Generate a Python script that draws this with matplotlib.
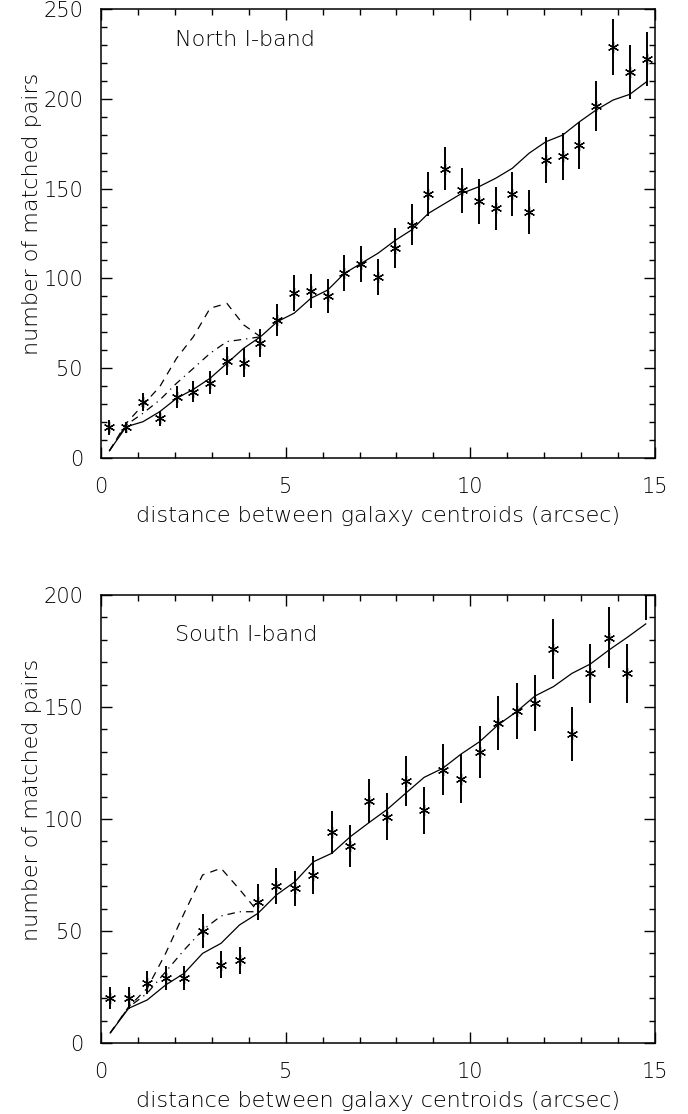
import matplotlib
matplotlib.use("Agg")
import matplotlib.pyplot as plt
from matplotlib.ticker import MultipleLocator
import numpy as np

# ---- North I-band: 33 bins over 0-15 arcsec ----
north_x = (np.arange(33) + 0.5) * 15.0 / 33
north_y = [17, 17, 31, 22, 34, 37, 42, 54, 53, 64, 77, 92, 93, 90, 103, 108, 101,
           117, 130, 147, 161, 149, 143, 139, 147, 137, 166, 168, 174, 196, 229, 215, 222]
north_err = [4, 3, 5, 4, 6, 6, 6.5, 8, 8, 8, 9, 10, 9.5, 9.5, 10, 10, 10,
             11, 11.5, 12, 12, 12.5, 12.5, 12, 12.5, 12, 13, 13, 13, 14, 15.5, 15, 15]
north_model = [4.0, 17.4, 20.2, 25.8, 33.2, 38.2, 44.4, 52.7, 61.1, 67.5, 75.9, 80.6, 88.9,
               93.5, 102.8, 108.4, 114, 121, 127, 136.2, 141.8, 147.4, 151, 155.7, 161.3,
               169.7, 176.1, 179.8, 187.2, 193.8, 199.3, 202.5, 209.5]
# model variants only differ at small separations (first 10 bins)
north_dash = [4.0, 19.3, 29.5, 39.7, 55.5, 67.5, 83.4, 86.1, 74.1, 67.5]
north_dashdot = [4.0, 18.4, 24.9, 32.3, 41.6, 49.9, 58.3, 64.8, 66.1, 67.5]

# ---- South I-band: 30 bins of 0.5 arcsec ----
south_x = np.arange(30) * 0.5 + 0.25
south_y = [20, 20, 27, 29, 29, 50, 35, 37, 63, 70, 69, 75, 94, 88, 108,
           101, 117, 104, 122, 118, 130, 143, 148, 152, 176, 138, 165, 181, 165, 203]
south_err = [5, 5, 5, 5.5, 5.5, 7.5, 6, 6, 8, 8, 8, 8.5, 9.5, 9.5, 10,
             10.5, 11, 10.5, 11.5, 11, 11.5, 12, 12.5, 12.5, 13.5, 12, 13, 13.5, 13, 14]
south_model = [4.5, 15.5, 19.2, 25.9, 31.1, 40, 44.5, 52.7, 57.9, 66.1, 72, 80.9, 84.7,
               92.1, 98.3, 104.3, 111.5, 118.6, 122.6, 129, 134.5, 142, 147.9, 154.9,
               159.1, 165, 169.2, 175.4, 181.1, 187.1]
south_dash = [4.5, 16.2, 24.4, 40, 57.9, 75, 78, 68.6, 58.6]
south_dashdot = [4.5, 16, 22.2, 31.8, 41.5, 50.4, 56.7, 58.6, 58.6]

plt.rcParams["font.family"] = ["DejaVu Sans"]
plt.rcParams["font.size"] = 15
plt.rcParams["font.weight"] = "light"
plt.rcParams["axes.labelweight"] = "light"
LABEL_FS = 16

fig = plt.figure(figsize=(6.88, 11.14), dpi=100)
W, H = 688, 1114


def make_axes(left, top, right, bottom):
    return fig.add_axes([left / W, 1 - bottom / H, (right - left) / W, (bottom - top) / H])


def draw_panel(ax, x, y, err, model, dash, dashdot, ymax, label, label_y):
    ax.errorbar(x, y, yerr=err, fmt="none", ecolor="black", elinewidth=1.4, capsize=0)
    ax.plot(x, y, linestyle="none", marker=(6, 2, 0), markersize=8,
            markeredgecolor="black", markeredgewidth=0.9)
    ax.plot(x, model, color="black", lw=0.9)
    ax.plot(x[:len(dash)], dash, color="black", lw=0.9, dashes=(6, 5))
    ax.plot(x[:len(dashdot)], dashdot, color="black", lw=0.9, dashes=(6, 4, 1, 4))

    ax.set_xlim(0, 15)
    ax.set_ylim(0, ymax)
    ax.xaxis.set_major_locator(MultipleLocator(5))
    ax.xaxis.set_minor_locator(MultipleLocator(1))
    ax.yaxis.set_major_locator(MultipleLocator(50))
    ax.yaxis.set_minor_locator(MultipleLocator(10))
    ax.tick_params(which="both", direction="in", top=True, right=True, width=1.0)
    ax.tick_params(which="major", length=8)
    ax.tick_params(which="minor", length=4.5)
    ax.tick_params(axis="x", which="major", pad=14)
    ax.tick_params(axis="y", which="major", pad=13)
    for s in ax.spines.values():
        s.set_linewidth(1.1)

    ax.set_xlabel("distance between galaxy centroids (arcsec)", fontsize=LABEL_FS)
    ax.set_ylabel("number of matched pairs", fontsize=LABEL_FS)
    ax.xaxis.set_label_coords(0.5, -0.129)
    ax.xaxis.label.set_va("center")
    ax.yaxis.set_label_coords(-0.125, 0.543)
    ax.yaxis.label.set_va("center")
    ax.text(2.0, label_y, label, va="center", ha="left", fontsize=LABEL_FS)


ax1 = make_axes(101, 9, 655, 458)
draw_panel(ax1, north_x, north_y, north_err, north_model, north_dash, north_dashdot,
           250, "North I-band", 233)

ax2 = make_axes(101, 595, 655, 1043)
draw_panel(ax2, south_x, south_y, south_err, south_model, south_dash, south_dashdot,
           200, "South I-band", 182)

fig.savefig("out.png", dpi=100)
